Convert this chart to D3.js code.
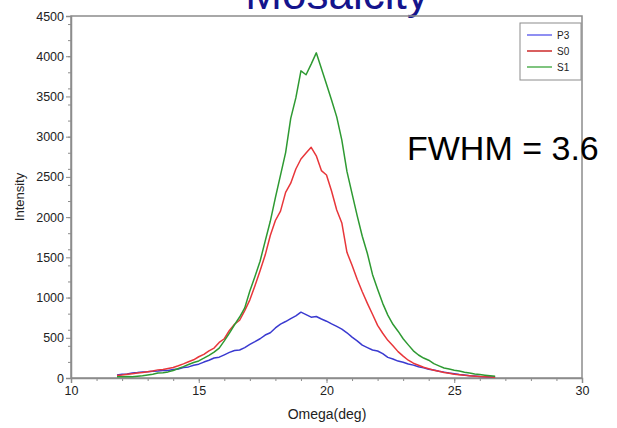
<!DOCTYPE html>
<html>
<head>
<meta charset="utf-8">
<script src="https://cdn.jsdelivr.net/npm/d3@7"></script>
<style>
  body { margin: 0; background: #fff; }
  svg { display: block; font-family: Arial, "Liberation Sans", sans-serif; }
  .axis path, .axis line { stroke: #8c8c8c; }
  .axis text { fill: #222; font-size: 12.5px; }
</style>
</head>
<body>
<svg id="chart" width="617" height="428"></svg>
<script>
// Mosaicity rocking curves: intensity vs omega for P3, S0, S1

const omega = [
  11.8, 12.0, 12.2, 12.4, 12.6, 12.8, 13.0, 13.2, 13.4, 13.6, 13.8, 14.0, 14.2, 14.4, 14.6,
  14.8, 15.0, 15.2, 15.4, 15.6, 15.8, 16.0, 16.2, 16.4, 16.6, 16.8, 17.0, 17.2, 17.4, 17.6,
  17.8, 18.0, 18.2, 18.4, 18.6, 18.8, 19.0, 19.2, 19.4, 19.6, 19.8, 20.0, 20.2, 20.4, 20.6,
  20.8, 21.0, 21.2, 21.4, 21.6, 21.8, 22.0, 22.2, 22.4, 22.6, 22.8, 23.0, 23.2, 23.4, 23.6,
  23.8, 24.0, 24.2, 24.4, 24.6, 24.8, 25.0, 25.2, 25.4, 25.6, 25.8, 26.0, 26.2, 26.4, 26.6,
];

const p3 = [
  38, 46, 51, 63, 67, 75, 77, 84, 87, 92, 94, 106, 113, 130, 138,
  158, 172, 198, 220, 248, 259, 288, 318, 342, 348, 378, 418, 452, 488, 534,
  562, 622, 670, 702, 738, 772, 818, 788, 756, 764, 733, 706, 672, 641, 608,
  562, 508, 462, 408, 378, 348, 336, 302, 256, 236, 210, 196, 174, 160, 139,
  126, 108, 99, 84, 73, 61, 53, 43, 37, 29, 25, 19, 17, 13, 11,
];

const s0 = [
  30, 37, 46, 54, 63, 69, 79, 86, 101, 107, 119, 131, 152, 176, 202,
  226, 264, 293, 338, 372, 442, 488, 592, 668, 718, 838, 972, 1148, 1332, 1528,
  1772, 1958, 2074, 2308, 2422, 2598, 2722, 2796, 2868, 2762, 2578, 2524, 2322, 2088, 1928,
  1562, 1402, 1228, 1072, 928, 792, 654, 556, 468, 402, 328, 272, 221, 184, 159,
  133, 116, 97, 83, 69, 58, 47, 41, 33, 27, 22, 18, 15, 12, 10,
];

const s1 = [
  14, 15, 18, 17, 22, 28, 38, 47, 61, 66, 76, 94, 118, 141, 168,
  192, 212, 246, 282, 322, 372, 462, 558, 662, 758, 872, 1082, 1262, 1452, 1702,
  1948, 2242, 2522, 2802, 3228, 3482, 3818, 3770, 3902, 4042, 3848, 3652, 3452, 3246, 2958,
  2568, 2292, 2018, 1762, 1548, 1288, 1102, 928, 782, 668, 582, 488, 412, 338, 286,
  248, 221, 178, 151, 124, 111, 97, 86, 71, 62, 51, 43, 35, 28, 22,
];

const seriesNames = ['P3', 'S0', 'S1'];
const seriesValues = [p3, s0, s1];
const lineColors = ['#3a3ad0', '#e8363a', '#2e9a32'];
const legendColors = ['#6a6aee', '#cc2a2a', '#55b055'];

const xTicks = [10, 15, 20, 25, 30];
const yTicks = [0, 500, 1000, 1500, 2000, 2500, 3000, 3500, 4000, 4500];

const svg = d3.select('#chart');
const plot = { left: 71, right: 582, top: 16, bottom: 378 };

const x = d3.scaleLinear().domain([10, 30]).range([plot.left, plot.right]);
const y = d3.scaleLinear().domain([0, 4500]).range([plot.bottom, plot.top]);

// title, cut off at the top edge like the original slide
svg.append('text')
  .attr('x', 337)
  .attr('y', 9)
  .attr('text-anchor', 'middle')
  .attr('fill', '#14148c')
  .attr('font-size', 44)
  .text('Mosaicity');

// frame
svg.append('rect')
  .attr('x', plot.left)
  .attr('y', plot.top)
  .attr('width', plot.right - plot.left)
  .attr('height', plot.bottom - plot.top)
  .attr('fill', 'none')
  .attr('stroke', '#8c8c8c')
  .attr('stroke-width', 1.5);

// minor ticks
svg.append('g')
  .attr('class', 'axis')
  .attr('transform', `translate(0,${plot.bottom})`)
  .call(d3.axisBottom(x).ticks(20).tickSize(3).tickFormat(''))
  .call(g => g.select('.domain').remove());

svg.append('g')
  .attr('class', 'axis')
  .attr('transform', `translate(${plot.left},0)`)
  .call(d3.axisLeft(y).ticks(18).tickSize(3).tickFormat(''))
  .call(g => g.select('.domain').remove());

// major ticks + labels
svg.append('g')
  .attr('class', 'axis')
  .attr('transform', `translate(0,${plot.bottom})`)
  .call(d3.axisBottom(x).tickValues(xTicks).tickSize(5).tickPadding(3).tickFormat(d3.format('d')))
  .call(g => g.select('.domain').attr('stroke-width', 1.5));

svg.append('g')
  .attr('class', 'axis')
  .attr('transform', `translate(${plot.left},0)`)
  .call(d3.axisLeft(y).tickValues(yTicks).tickSize(5).tickPadding(2).tickFormat(d3.format('d')))
  .call(g => g.select('.domain').attr('stroke-width', 1.5));

svg.append('text')
  .attr('x', 327)
  .attr('y', 419)
  .attr('text-anchor', 'middle')
  .attr('fill', '#222')
  .attr('font-size', 14)
  .text('Omega(deg)');

svg.append('text')
  .attr('transform', `translate(24,${(plot.top + plot.bottom) / 2}) rotate(-90)`)
  .attr('text-anchor', 'middle')
  .attr('fill', '#222')
  .attr('font-size', 13)
  .text('Intensity');

// curves
const line = d3.line()
  .x((d, i) => x(omega[i]))
  .y(d => y(d));

svg.append('g')
  .selectAll('path')
  .data(seriesValues)
  .join('path')
  .attr('d', line)
  .attr('fill', 'none')
  .attr('stroke', (d, i) => lineColors[i])
  .attr('stroke-width', 1.5)
  .attr('stroke-linejoin', 'round');

// legend
const legend = svg.append('g');
legend.append('rect')
  .attr('x', 520)
  .attr('y', 23)
  .attr('width', 61)
  .attr('height', 57)
  .attr('fill', '#fff')
  .attr('stroke', '#8c8c8c');

const item = legend.selectAll('.item')
  .data(seriesNames)
  .join('g')
  .attr('class', 'item')
  .attr('transform', (d, i) => `translate(0,${35 + i * 16})`);

item.append('line')
  .attr('x1', 527)
  .attr('x2', 552)
  .attr('stroke', (d, i) => legendColors[i])
  .attr('stroke-width', 1.5);

item.append('text')
  .attr('x', 557)
  .attr('dy', '0.35em')
  .attr('font-size', 10)
  .attr('fill', '#222')
  .text(d => d);

// annotation
svg.append('text')
  .attr('x', 407)
  .attr('y', 160)
  .attr('font-size', 34)
  .attr('fill', '#000')
  .text('FWHM = 3.6');
</script>
</body>
</html>
